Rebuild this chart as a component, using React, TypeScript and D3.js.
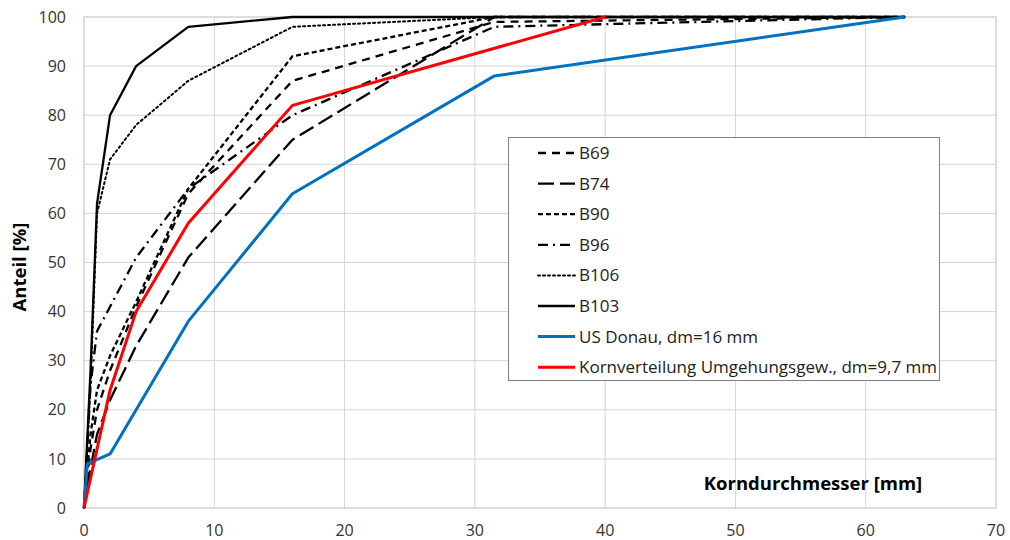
import React from "react";
import { scaleLinear, line, range } from "d3";

// sieve sizes [mm] of the lab samples
const sieveSizes = [0, 0.5, 1, 2, 4, 8, 16, 31.5, 63];
const b69 = [0, 12, 20, 28, 41, 64, 87, 99, 100];
const b74 = [0, 8, 15, 22, 33, 51, 75, 100, 100];
const b90 = [0, 15, 24, 31, 42, 65, 92, 100, 100];
const b96 = [0, 25, 36, 41, 51, 65, 80, 98, 100];
const b106 = [0, 25, 60, 71, 78, 87, 98, 100, 100];
const b103 = [0, 28, 62, 80, 90, 98, 100, 100, 100];

const donauSizes = [0, 0.25, 2, 8, 16, 31.5, 63];
const donauValues = [0, 9, 11, 38, 64, 88, 100];

const umgehungSizes = [0, 2, 4, 8, 16, 40];
const umgehungValues = [0, 24, 40, 58, 82, 100];

const xTicks = range(0, 71, 10);
const yTicks = range(0, 101, 10);

const series = [
  { name: "B69", xs: sieveSizes, ys: b69, color: "#000", width: 2.3, dash: "8,6" },
  { name: "B74", xs: sieveSizes, ys: b74, color: "#000", width: 2.3, dash: "16,6" },
  { name: "B90", xs: sieveSizes, ys: b90, color: "#000", width: 2.3, dash: "5,3" },
  { name: "B96", xs: sieveSizes, ys: b96, color: "#000", width: 2.3, dash: "10,5,2,5" },
  { name: "B106", xs: sieveSizes, ys: b106, color: "#000", width: 2, dash: "2,3" },
  { name: "B103", xs: sieveSizes, ys: b103, color: "#000", width: 2.3, dash: "" },
  { name: "US Donau, dm=16 mm", xs: donauSizes, ys: donauValues, color: "#0070c0", width: 3, dash: "" },
  { name: "Kornverteilung Umgehungsgew., dm=9,7 mm", xs: umgehungSizes, ys: umgehungValues, color: "#ff0000", width: 3, dash: "" },
];

const font = "'Open Sans', sans-serif";

export default function App() {
  const left = 84, right = 996, top = 17, bottom = 508;
  const x = scaleLinear().domain([0, 70]).range([left, right]);
  const y = scaleLinear().domain([0, 100]).range([bottom, top]);

  const path = line<number>();

  return (
    <svg width={1010} height={540} style={{ position: "absolute", left: 0, top: 0, background: "#fff" }}>
      {/* grid */}
      {yTicks.map(t => (
        <line key={"gy" + t} x1={left} x2={right} y1={y(t)} y2={y(t)} stroke="#d4d4d4" strokeWidth={1} />
      ))}
      {xTicks.map(t => (
        <line key={"gx" + t} x1={x(t)} x2={x(t)} y1={top} y2={bottom} stroke="#d4d4d4" strokeWidth={1} />
      ))}
      <rect x={left} y={top} width={right - left} height={bottom - top} fill="none" stroke="#d0d0d0" />

      {/* tick labels */}
      {yTicks.map(t => (
        <text key={"ty" + t} x={66} y={y(t)} dy="0.35em" textAnchor="end" fontFamily={font} fontSize={16} fill="#333">{t}</text>
      ))}
      {xTicks.map(t => (
        <text key={"tx" + t} x={x(t)} y={530} dy="0.35em" textAnchor="middle" fontFamily={font} fontSize={16} fill="#333">{t}</text>
      ))}

      {/* series */}
      {series.map(s => (
        <path
          key={s.name}
          d={path(s.xs.map((v, i) => [x(v), y(s.ys[i])] as [number, number])) || ""}
          fill="none"
          stroke={s.color}
          strokeWidth={s.width}
          strokeDasharray={s.dash || undefined}
          strokeLinecap={s.name === "B106" ? "round" : "butt"}
          strokeLinejoin="round"
        />
      ))}

      {/* axis titles */}
      <text transform="translate(26,267) rotate(-90)" textAnchor="middle" fontFamily={font} fontSize={18.5} fontWeight="bold" fill="#000">Anteil [%]</text>
      <text x={813} y={484} dy="0.35em" textAnchor="middle" fontFamily={font} fontSize={18.5} fontWeight="bold" fill="#000">Korndurchmesser [mm]</text>

      {/* legend */}
      <rect x={508.5} y={137.5} width={431} height={243} fill="#fff" stroke="#7f7f7f" />
      {series.map((s, i) => {
        const ly = 153 + i * 30.6;
        return (
          <g key={"lg" + s.name}>
            <line x1={538} x2={575} y1={ly} y2={ly} stroke={s.color} strokeWidth={s.width}
              strokeDasharray={s.dash || undefined} strokeLinecap={s.name === "B106" ? "round" : "butt"} />
            <text x={579} y={ly} dy="0.35em" fontFamily={font} fontSize={17} fill="#222">{s.name}</text>
          </g>
        );
      })}
    </svg>
  );
}
